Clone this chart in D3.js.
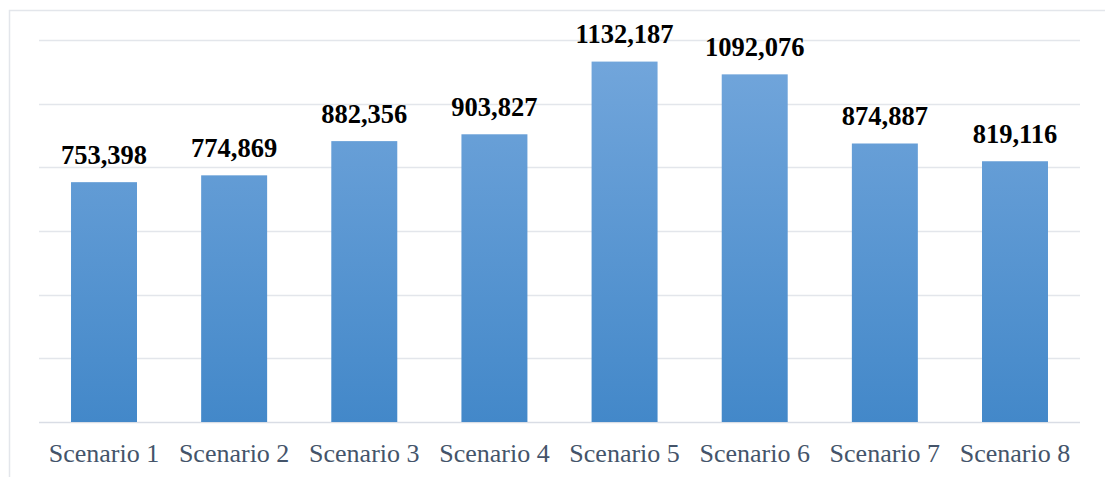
<!DOCTYPE html>
<html><head><meta charset="utf-8">
<script src="https://cdn.jsdelivr.net/npm/d3@7"></script>
<style>body{margin:0;background:#fff}svg{display:block}</style>
</head><body>
<svg id="c" width="1105" height="477"></svg>
<script>
const categories = ["Scenario 1","Scenario 2","Scenario 3","Scenario 4","Scenario 5","Scenario 6","Scenario 7","Scenario 8"];
const values = [753398, 774869, 882356, 903827, 1132187, 1092076, 874887, 819116];
const gridTicks = [0, 200000, 400000, 600000, 800000, 1000000, 1200000];

const svg = d3.select("#c");
const W = 1105, H = 477;
const m = {left: 39, right: 25, top: 40, bottom: 55};

// outer frame
svg.append("path").attr("d", `M9.5,${H} V10.5 H${W}`).attr("fill","none").attr("stroke","#e3e6eb").attr("stroke-width",1.5);

const x = d3.scaleBand().domain(categories).range([m.left, W - m.right]).paddingInner(0.493).paddingOuter(0.246);
const y = d3.scaleLinear().domain([0, 1200000]).range([422, 40]);

const defs = svg.append("defs");
const g = defs.append("linearGradient").attr("id","bg")
  .attr("gradientUnits","userSpaceOnUse").attr("x1",0).attr("y1",y(1200000)).attr("x2",0).attr("y2",y(0));
g.append("stop").attr("offset","0%").attr("stop-color","#74a7dc");
g.append("stop").attr("offset","100%").attr("stop-color","#4388c9");

svg.append("g").selectAll("line").data(gridTicks).join("line")
  .attr("x1", m.left).attr("x2", W - m.right)
  .attr("y1", d => Math.round(y(d)) + 0.5).attr("y2", d => Math.round(y(d)) + 0.5)
  .attr("stroke", d => d === 0 ? "#d9dde5" : "#e3e6eb").attr("stroke-width", 1.5);

svg.append("g").selectAll("rect").data(values).join("rect")
  .attr("x", (d,i) => x(categories[i])).attr("width", x.bandwidth())
  .attr("y", d => y(d)).attr("height", d => y(0) - y(d))
  .attr("fill", "url(#bg)");

const fmt = d3.format(",");
svg.append("g").selectAll("text").data(values).join("text")
  .attr("x", (d,i) => x(categories[i]) + x.bandwidth()/2)
  .attr("y", d => y(d) - 18.5)
  .attr("text-anchor","middle")
  .attr("font-family","'Liberation Serif','Times New Roman',serif")
  .attr("font-weight","bold").attr("font-size", 26.5).attr("fill","#000")
  .text(d => d >= 1000000 ? String(d).slice(0, -3) + "," + String(d).slice(-3) : fmt(d));

const xAxis = d3.axisBottom(x).tickSize(0).tickPadding(0);
const ax = svg.append("g").attr("transform","translate(0,422)").call(xAxis);
ax.select(".domain").remove();
ax.selectAll("text").attr("dy", null).attr("y", 40)
  .attr("font-family","'Liberation Serif','Times New Roman',serif")
  .attr("font-size", 26).attr("fill","#44546a");
</script>
</body></html>
